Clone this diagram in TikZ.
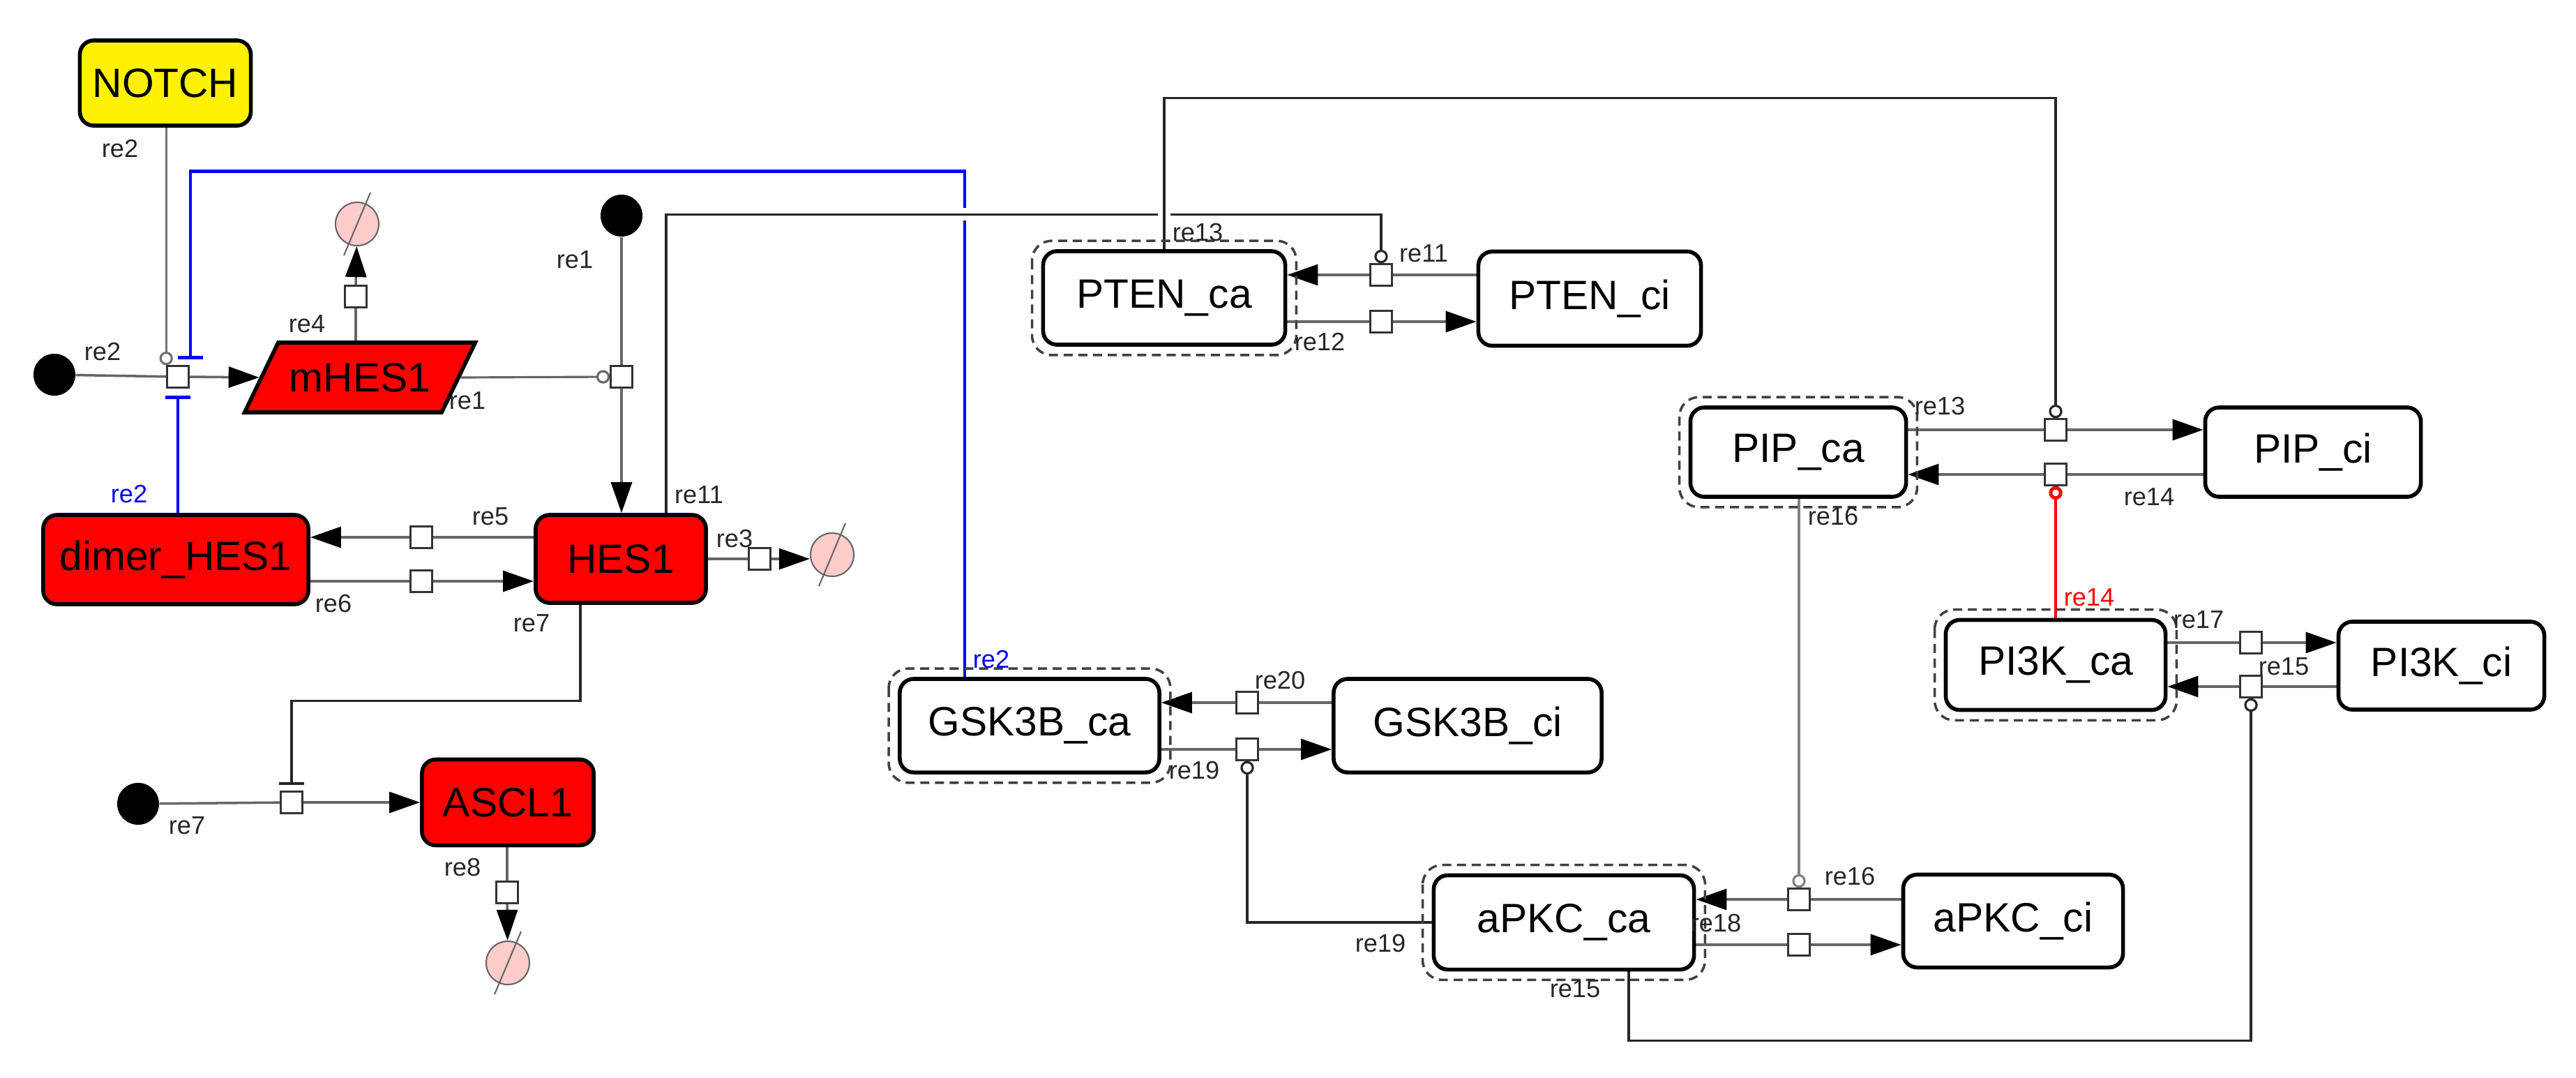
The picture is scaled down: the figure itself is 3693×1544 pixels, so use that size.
\documentclass[tikz,border=0pt]{standalone}
\usepackage{fontspec}
\setmainfont{Liberation Sans}
\usetikzlibrary{arrows.meta,shapes.geometric,backgrounds}

\begin{document}
\begin{tikzpicture}[x=0.01cm,y=-0.01cm,
  spec/.style={draw,fill=white,line width=1.6pt,rounded corners=0.2cm,inner sep=0,font=\fontsize{16.7}{20}\selectfont},
  redspec/.style={spec,fill=red},
  actv/.style={draw=black!75,line width=1pt,dash pattern=on 3.7pt off 2.3pt,rounded corners=0.28cm},
  src/.style={circle,fill=black,minimum size=0.6cm,inner sep=0},
  degr/.style={circle,draw=black!60,fill=red!20,line width=0.6pt,minimum size=0.62cm,inner sep=0},
  proc/.style={draw=black!80,fill=white,line width=0.7pt,minimum size=0.31cm,inner sep=0},
  rxn/.style={draw=black!60,line width=1pt},
  prod/.style={rxn,-{Triangle[length=12.5pt,width=8.5pt,color=black]}},
  modl/.style={draw=black!85,line width=0.9pt,-{Circle[open,length=5.5pt,width=5.5pt]}},
  inhb/.style={draw=blue,line width=1.4pt,-{Bar[width=10pt,line width=1.6pt]}},
  halo/.style={preaction={draw=white,line width=5pt,arrows=-}},
  lbl/.style={font=\fontsize{10.3}{12}\selectfont,text=black!85,inner sep=0}]
\useasboundingbox (0,0) rectangle (3693,1544);

\node[spec,fill=yellow,minimum width=2.45cm,minimum height=1.22cm] (notch) at (237,119) {NOTCH};
\node[spec,fill=red,sharp corners,trapezium,trapezium left angle=45,trapezium right angle=135,
  trapezium stretches=true,minimum width=3.31cm,minimum height=1cm] (mhes1) at (516,541) {mHES1};
\node[redspec,minimum width=3.8cm,minimum height=1.28cm] (dimer) at (252,802) {dimer\_HES1};
\node[redspec,minimum width=2.44cm,minimum height=1.26cm] (hes1) at (890,801) {HES1};
\node[redspec,minimum width=2.46cm,minimum height=1.23cm] (ascl1) at (728,1150) {ASCL1};
\node[spec,minimum width=3.47cm,minimum height=1.34cm] (ptenca) at (1669,427) {PTEN\_ca};
\node[spec,minimum width=3.19cm,minimum height=1.35cm] (ptenci) at (2279,428) {PTEN\_ci};
\node[spec,minimum width=3.09cm,minimum height=1.28cm] (pipca) at (2578,648) {PIP\_ca};
\node[spec,minimum width=3.09cm,minimum height=1.28cm] (pipci) at (3316,648) {PIP\_ci};
\node[spec,minimum width=3.15cm,minimum height=1.29cm] (pi3kca) at (2947,953) {PI3K\_ca};
\node[spec,minimum width=2.95cm,minimum height=1.26cm] (pi3kci) at (3500,954) {PI3K\_ci};
\node[spec,minimum width=3.72cm,minimum height=1.34cm] (gsk3bca) at (1476,1040) {GSK3B\_ca};
\node[spec,minimum width=3.84cm,minimum height=1.34cm] (gsk3bci) at (2104,1040) {GSK3B\_ci};
\node[spec,minimum width=3.73cm,minimum height=1.35cm] (apkcca) at (2242,1322) {aPKC\_ca};
\node[spec,minimum width=3.15cm,minimum height=1.33cm] (apkcci) at (2886,1320) {aPKC\_ci};
\foreach \n in {ptenca,pipca,pi3kca,gsk3bca,apkcca}
  \draw[actv] ([shift={(-13,-12)}]\n.north west) rectangle ([shift={(13,12)}]\n.south east);

\node[src] (s2) at (78,537) {};
\node[src] (s1) at (891,309) {};
\node[src] (s7) at (198,1152) {};
\node[degr] (d4) at (512,321) {};
\node[degr] (d3) at (1193,795) {};
\node[degr] (d8) at (728,1380) {};
\foreach \d in {d4,d3,d8}
  \draw[black!60,line width=0.6pt] ([shift={(-19,45)}]\d.center) -- ([shift={(19,-45)}]\d.center);

\foreach \n/\x/\y in {p2/255/540,p4/510/425,p1/891/540,p5/604/770,p6/604/833,p3/1089/801,
  p7/418/1150,p8/727/1279,p11/1980/394,p12/1980/461,p13/2947/616,p14/2947/680,
  p17/3227/921,p15/3227/984,p20/1788/1007,p19/1788/1074,p16/2579/1289,p18/2579/1354}
  \node[proc] (\n) at (\x,\y) {};

\begin{scope}[on background layer]
\draw[rxn] (s2) -- (p2);
\draw[prod] (p2.east) -- (mhes1.west);
\draw[modl,draw=black!55] (p2.north west |- notch.south) -- (p2.north west);
\draw[inhb] ([xshift=-0.93cm]gsk3bca.north) -- ++(0,-725) -| ([xshift=0.18cm,yshift=0.08cm]p2.north);
\draw[inhb] (p2.south |- dimer.north) -- ([yshift=-0.1cm]p2.south);
\draw[rxn] (p4.south |- mhes1.north) -- (p4.south);
\draw[prod] (p4.north) -- (d4);
\draw[rxn] (s1) -- (p1);
\draw[prod] (p1.south) -- (p1.south |- hes1.north);
\draw[modl,draw=black!60] (mhes1.east) -- (p1.west);
\draw[rxn] (hes1.west |- p5) -- (p5.east);
\draw[prod] (p5.west) -- (dimer.east |- p5);
\draw[rxn] (dimer.east |- p6) -- (p6.west);
\draw[prod] (p6.east) -- (hes1.west |- p6);
\draw[rxn] (hes1.east |- p3) -- (p3.west);
\draw[prod] (p3.east) -- (p3.east -| d3.west);
\draw[rxn] (s7) -- (p7);
\draw[prod] (p7.east) -- (ascl1.west);
\draw[draw=black!85,line width=0.9pt,-{Bar[width=10pt,line width=1.2pt]}] ([xshift=-0.58cm]hes1.south) -- ++(0,138) -| ([yshift=0.08cm]p7.north);
\draw[rxn] (p8.north |- ascl1.south) -- (p8.north);
\draw[prod] (p8.south) -- (d8);
\draw[rxn] (ptenci.west |- p11) -- (p11.east);
\draw[prod] (p11.west) -- (ptenca.east |- p11);
\draw[rxn] (ptenca.east |- p12) -- (p12.west);
\draw[prod] (p12.east) -- (ptenci.west |- p12);
\draw[modl,halo] ([xshift=0.65cm]hes1.north) -- ++(0,-428) -| (p11.north);
\draw[modl,halo] (ptenca.north) -- ++(0,-217) -| (p13.north);
\draw[rxn] (pipca.east |- p13) -- (p13.west);
\draw[prod] (p13.east) -- (pipci.west |- p13);
\draw[rxn] (pipci.west |- p14) -- (p14.east);
\draw[prod] (p14.west) -- (pipca.east |- p14);
\draw[modl,draw=red,line width=1.4pt] (p14.south |- pi3kca.north) -- (p14.south);
\draw[modl,draw=black!50] (p16.north |- pipca.south) -- (p16.north);
\draw[rxn] (pi3kca.east |- p17) -- (p17.west);
\draw[prod] (p17.east) -- (pi3kci.west |- p17);
\draw[rxn] (pi3kci.west |- p15) -- (p15.east);
\draw[prod] (p15.west) -- (pi3kca.east |- p15);
\draw[modl] ([xshift=0.93cm]apkcca.south) -- ++(0,99) -| (p15.south);
\draw[rxn] (apkcci.west |- p16) -- (p16.east);
\draw[prod] (p16.west) -- (apkcca.east |- p16);
\draw[rxn] (apkcca.east |- p18) -- (p18.west);
\draw[prod] (p18.east) -- (apkcci.west |- p18);
\draw[rxn] (gsk3bci.west |- p20) -- (p20.east);
\draw[prod] (p20.west) -- (gsk3bca.east |- p20);
\draw[rxn] (gsk3bca.east |- p19) -- (p19.west);
\draw[prod] (p19.east) -- (gsk3bci.west |- p19);
\draw[modl] (apkcca.west) -| (p19.south);
\end{scope}

\foreach \x/\y/\t [count=\i] in {172/213/re2,147/504/re2,440/464/re4,824/372/re1,670/574/re1,
  703/740/re5,1002/709/re11,478/865/re6,762/893/re7,1053/772/re3,268/1183/re7,663/1243/re8,
  1717/333/re13,2041/363/re11,1892/490/re12,2781/582/re13,3081/712/re14,2628/740/re16,
  3152/888/re17,3274/955/re15,1835/975/re20,1712/1104/re19,1979/1352/re19,2652/1256/re16,
  2460/1323/re18,2258/1417/re15}
  \node[lbl] (lab\i) at (\x,\y) {\t};
\node[lbl,text=blue] (labb1) at (185,708) {re2};
\node[lbl,text=blue] (labb2) at (1421,945) {re2};
\node[lbl,text=red] (labr) at (2995,856) {re14};
\end{tikzpicture}
\end{document}
